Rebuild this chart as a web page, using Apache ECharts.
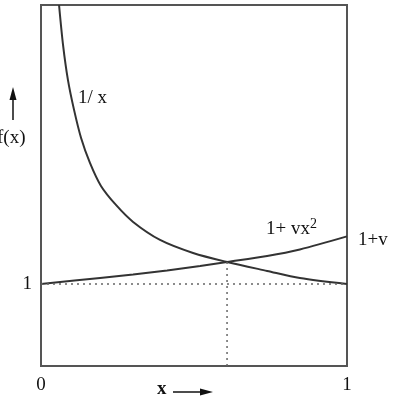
<!DOCTYPE html>
<html>
<head>
<meta charset="utf-8">
<script src="https://cdn.jsdelivr.net/npm/echarts@6/dist/echarts.min.js"></script>
<style>
  html, body { margin: 0; padding: 0; background: #fff; }
  #chart { width: 396px; height: 401px; }
</style>
</head>
<body>
<div id="chart"></div>
<script>
// curve 1/x
var recipX = [0.059, 0.072, 0.088, 0.108, 0.131, 0.160, 0.196, 0.245, 0.301, 0.389, 0.497, 0.608, 0.739, 0.846, 1.0];
var recipY = [4.40, 3.915, 3.488, 3.122, 2.780, 2.476, 2.195, 1.963, 1.756, 1.537, 1.378, 1.268, 1.159, 1.073, 1.0];
// curve 1 + v x^2
var quadX = [0, 0.193, 0.301, 0.412, 0.520, 0.608, 0.739, 0.846, 1.0];
var quadY = [1.0, 1.073, 1.116, 1.165, 1.220, 1.268, 1.341, 1.421, 1.58];
// crossing point and the y = 1 reference
var crossX = 0.608;
var crossY = 1.268;
var xTicks = [0, 1];
var yTicks = [1];

function pairs(xs, ys) {
    return xs.map(function (x, i) { return [x, ys[i]]; });
}

var font = '"Liberation Serif", "DejaVu Serif", serif';
var ink = '#111';

var chart = echarts.init(document.getElementById('chart'));
var option = {
    animation: false,
    backgroundColor: '#fff',
    grid: {
        left: 41, right: 49, top: 5, bottom: 35,
        show: true, borderColor: '#555', borderWidth: 2,
        outerBoundsMode: 'none'
    },
    xAxis: {
        type: 'value', min: 0, max: 1, interval: 1,
        axisLine: { show: false },
        axisTick: { show: false },
        splitLine: { show: false },
        axisLabel: {
            margin: 10, fontSize: 19, color: ink, fontFamily: font,
            formatter: function (v) { return xTicks.indexOf(v) >= 0 ? String(v) : ''; }
        }
    },
    yAxis: {
        type: 'value', min: 0, max: 4.4, interval: 1,
        axisLine: { show: false },
        axisTick: { show: false },
        splitLine: { show: false },
        axisLabel: {
            margin: 9, fontSize: 19, color: ink, fontFamily: font,
            formatter: function (v) { return yTicks.indexOf(v) >= 0 ? String(v) : ''; }
        }
    },
    series: [
        {
            name: 'recip', type: 'line', data: pairs(recipX, recipY),
            smooth: 0.3, showSymbol: false, clip: true,
            lineStyle: { color: '#333', width: 2 }
        },
        {
            name: 'quad', type: 'line', data: pairs(quadX, quadY),
            smooth: 0.3, showSymbol: false,
            lineStyle: { color: '#333', width: 2 },
            endLabel: {
                show: true, formatter: '1+v', distance: 11, offset: [0, 4],
                fontSize: 19, color: ink, fontFamily: font
            }
        },
        {
            name: 'one', type: 'line', data: [[0, 1], [1, 1]],
            showSymbol: false,
            lineStyle: { color: '#666', width: 1.5, type: [2, 4] }
        },
        {
            name: 'drop', type: 'line', data: [[crossX, 0], [crossX, crossY]],
            showSymbol: false,
            lineStyle: { color: '#666', width: 1.5, type: [2, 4] }
        }
    ],
    graphic: [
        {
            type: 'text', left: 78, top: 89,
            style: { text: '1/ x', font: '19px ' + font, fill: ink }
        },
        {
            type: 'text', left: 266, top: 217,
            style: {
                text: '1+ vx{s|2}', font: '19px ' + font, fill: ink,
                rich: { s: { fontSize: 14, fontFamily: font, verticalAlign: 'top', padding: [0, 0, 11, 0] } }
            }
        },
        {
            type: 'text', left: -3, top: 129,
            style: { text: 'f(x)', font: '19px ' + font, fill: ink }
        },
        {
            type: 'line', shape: { x1: 13, y1: 120, x2: 13, y2: 96 },
            style: { stroke: ink, lineWidth: 1.5 }
        },
        {
            type: 'polygon', shape: { points: [[13, 87], [9.5, 100], [16.5, 100]] },
            style: { fill: ink }
        },
        {
            type: 'text', left: 157, top: 380,
            style: { text: 'x', font: 'bold 19px ' + font, fill: ink }
        },
        {
            type: 'line', shape: { x1: 173, y1: 392, x2: 204, y2: 392 },
            style: { stroke: ink, lineWidth: 1.5 }
        },
        {
            type: 'polygon', shape: { points: [[213, 392], [200, 388.5], [200, 395.5]] },
            style: { fill: ink }
        }
    ]
};
chart.setOption(option);
</script>
</body>
</html>
